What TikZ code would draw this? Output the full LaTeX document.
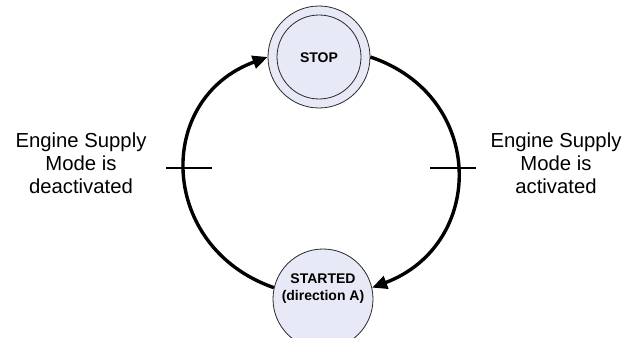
\documentclass[tikz,border=0pt]{standalone}
\usepackage{fontspec}
\setmainfont{Liberation Sans}
\usetikzlibrary{arrows.meta}
\definecolor{statefill}{RGB}{231,233,246}
\definecolor{stateline}{RGB}{40,40,40}
\tikzset{
  statecircle/.style={circle, draw=stateline, line width=0.8pt, fill=statefill, inner sep=0pt},
  statetext/.style={font=\fontsize{14}{17}\selectfont\bfseries, align=center},
  sidetext/.style={font=\fontsize{20.3}{23}\selectfont, align=center},
  transition/.style={line width=3.4pt, -{Triangle[length=15pt,width=13pt]}},
  tickmark/.style={line width=1.2pt}
}
\begin{document}
\begin{tikzpicture}[x=1pt, y=-1pt]
  \useasboundingbox (0,0) rectangle (639,337);
  % states
  \node[statecircle, minimum size=102pt] (stop) at (319,57) {};
  \node[circle, draw=stateline, line width=0.8pt, minimum size=84pt] (stopinner) at (stop.center) {};
  \node[statetext] (stoptext) at (319,58) {STOP};
  \node[statecircle, minimum size=100pt] (started) at (323,299) {};
  \node[statetext] (startedtext) at (323,289) {STARTED\\(direction A)};
  % transitions
  \draw[transition] (started.167) .. controls +(-115,-40) and +(-114,42) .. (stop.west);
  \draw[transition] (stop.east) .. controls +(116,39) and +(114,-43) .. (started.13);
  % transition bars
  \coordinate (barL1) at (166,168);
  \coordinate (barL2) at (212,168);
  \coordinate (barR1) at (430,168);
  \coordinate (barR2) at (476,168);
  \draw[tickmark] (barL1) -- (barL2);
  \draw[tickmark] (barR1) -- (barR2);
  % conditions
  \node[sidetext] (deact) at (81,163) {Engine Supply\\Mode is\\deactivated};
  \node[sidetext] (act) at (556,163) {Engine Supply\\Mode is\\activated};
\end{tikzpicture}
\end{document}
